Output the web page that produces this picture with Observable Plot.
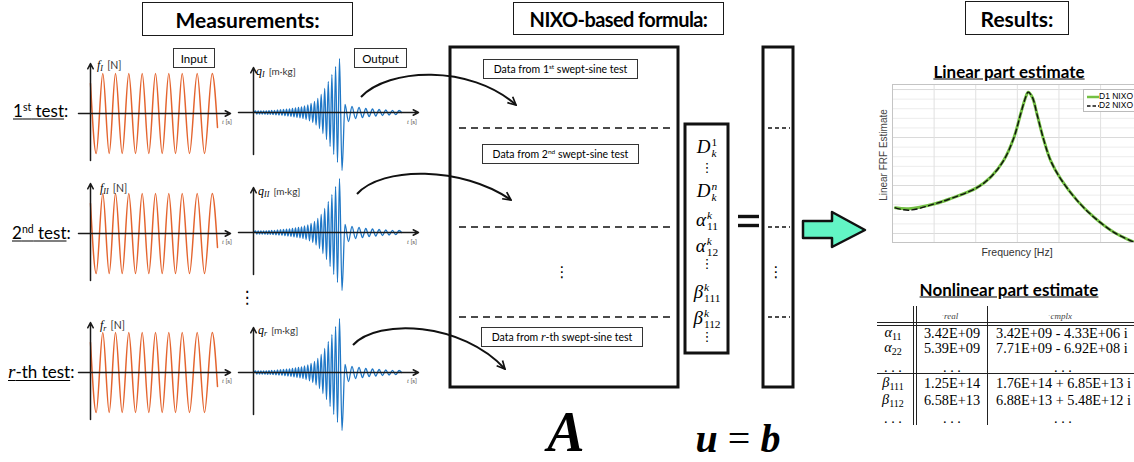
<!DOCTYPE html>
<html><head><meta charset="utf-8">
<script src="https://cdn.jsdelivr.net/npm/d3@7"></script>
<script src="https://cdn.jsdelivr.net/npm/@observablehq/plot@0.6"></script>
<style>
html,body{margin:0;padding:0;background:#fff;}
#root{position:relative;width:1134px;height:462px;overflow:hidden;font-family:Lato,"Open Sans",sans-serif;color:#000;}
#root > *{position:absolute;}
.ttl{border:1.6px solid #1a1a1a;box-sizing:border-box;display:flex;align-items:center;justify-content:center;font-weight:700;font-size:21px;background:#fff;white-space:nowrap;}
.lbl{white-space:nowrap;transform:translate(-50%,-50%);}
.lft{white-space:nowrap;transform:translate(0,-50%);}
.sbox{border:1px solid #333;box-sizing:border-box;display:flex;align-items:center;justify-content:center;font-size:11.5px;background:#fff;white-space:nowrap;}
.mi{font-family:"Liberation Serif",serif;font-style:italic;}
.up{font-family:"Liberation Serif",serif;font-style:normal;}
.ss{display:inline-flex;flex-direction:column;vertical-align:0.6em;font-size:0.6em;line-height:0.85;margin-left:1px;text-align:left;}
.vd{font-family:"DejaVu Sans",sans-serif;}
.tb{font-family:"Liberation Serif",serif;font-size:14.3px;}
sup{font-size:0.62em;vertical-align:0.55em;line-height:0;}
svg{max-width:none !important;}
</style></head>
<body><div id="root"></div>
<script>
// ---------------- data ----------------
const testLabels = ["1<sup>st</sup> test", "2<sup>nd</sup> test", "<span class='mi' style='font-size:19px'>r</span>-th test"];
const inputNames = ["I", "II", "r"];
// input swept-sine: extrema (time in px from y-axis, force value)
const inputT = [0, 5.7, 12.3, 18.7, 25, 31.7, 38.3, 45, 51.7, 58.3, 65, 71.7, 78.3, 85, 91.7, 99, 106.7, 114, 121.7, 127];
const inputV = [30, -40, 40, -40, 40, -40, 40, -40, 40, -40, 40, -40, 40, -40, 40, -40, 40, -40, 40, -14];
// output response: extrema
const outputT = [0, 2.0, 3.35, 4.7, 6.05, 7.4, 8.75, 10.1, 11.45, 12.8, 14.15, 15.5, 16.85, 18.2, 19.6, 21.0, 22.5, 24.0, 25.5, 27.0, 28.5, 30.0, 31.5, 33.0, 34.5, 36.0, 37.5, 39.0, 40.5, 42.0, 43.5, 45.0, 46.5, 48.0, 49.5, 51.0, 52.6, 54.3, 56.0, 57.6, 59.3, 61.0, 62.6, 64.3, 66.0, 67.7, 69.4, 71.2, 73.0, 74.8, 76.6, 78.4, 80.2, 82.1, 84.0, 86.0, 88.5, 91.5, 95.0, 98.5, 102.0, 105.5, 109.0, 112.3, 115.6, 119.0, 122.3, 125.6, 129.0, 132.3, 135.6, 139.0, 142.3, 145.6, 148.0];
const outputV = [0, 1.5, -1.5, 1.5, -1.5, 1.6, -1.6, 1.6, -1.7, 1.7, -1.8, 1.8, -1.9, 2.0, -2.1, 2.2, -2.3, 2.5, -2.6, 2.8, -2.9, 3.0, -3.2, 3.3, -3.5, 3.6, -3.8, 4.0, -4.3, 4.5, -4.8, 5.0, -5.3, 5.5, -6.0, 6.5, -7.0, 7.5, -8.3, 9.0, -10, 11, -12.5, 14, -16, 18, -21, 24, -27, 31, -34, 38, -42, 46, -50, 54, -58, 8, -9, 6, -6, 5, -5, 4, -4, 3.5, -3.5, 3, -3, 2.5, -2.5, 2.2, -2.2, 2, 0];
// linear FRF estimate
const frfFreq = [0.07, 0.39, 1.02, 1.39, 2.02, 2.36, 2.67, 2.92, 3.08, 3.2, 3.26, 3.36, 3.48, 3.64, 3.8, 4.04, 4.44, 4.84, 5.32, 5.8];
const frfD1 = [-109.3, -109.7, -107.6, -105.5, -101.0, -96.5, -89.6, -79.9, -70.1, -63.2, -61.1, -63.2, -70.8, -81.3, -89.6, -97.2, -106.3, -113.2, -119.5, -123.6];
const frfD2 = [-109.3, -110.3, -107.6, -105.5, -101.0, -96.5, -89.6, -79.9, -70.1, -63.2, -61.1, -63.2, -70.8, -81.3, -89.6, -97.2, -106.3, -113.2, -119.5, -123.6];
const frfGridHz = [1, 2, 3, 4, 5, 6];
const frfMajorDb = [-60, -80, -100, -120];
const legendNames = ["D1 NIXO", "D2 NIXO"];
// nonlinear table
const rowSymbols = [["α", "11"], ["α", "22"], null, ["β", "111"], ["β", "112"], null];
const realVals = ["3.42E+09", "5.39E+09", ". . .", "1.25E+14", "6.58E+13", ". . ."];
const cmplxVals = ["3.42E+09 - 4.33E+06 i", "7.71E+09 - 6.92E+08 i", ". . .", "1.76E+14 + 6.85E+13 i", "6.88E+13 + 5.48E+12 i", ". . ."];
// unknown vector u
const uEntries = [["D", "1", "k"], "⋮", ["D", "n", "k"], ["α", "k", "11"], ["α", "k", "12"], "⋮", ["β", "k", "111"], ["β", "k", "112"], "⋮"];
const dataBoxes = ["Data from 1<sup>st</sup> swept-sine test", "Data from 2<sup>nd</sup> swept-sine test", "Data from <span class='mi' style='font-size:12px'>r</span>-th swept-sine test"];

// ---------------- helpers ----------------
const root = document.getElementById("root");
function div(cls, html, x, y, extra) {
  const d = document.createElement("div");
  d.className = cls; d.innerHTML = html;
  d.style.left = x + "px"; d.style.top = y + "px";
  if (extra) Object.assign(d.style, extra);
  root.appendChild(d); return d;
}
function putNode(node, x, y, w) {
  const d = document.createElement("div");
  d.style.left = x + "px"; d.style.top = y + "px"; d.style.lineHeight = 0; d.style.width = w + "px";
  d.appendChild(node); root.appendChild(d); return d;
}
const it = s => /[a-z]/.test(s) ? `<span class="mi">${s}</span>` : `<span class="up">${s}</span>`;
function supsub(base, sup, sub) {
  return `<span class="mi">${base}</span><span class="ss"><span>${it(sup)}</span><span>${it(sub)}</span></span>`;
}

function signalPlot(T, V, color, xDom, yDom, axX, axY, sw) {
  const pts = T.map((t, i) => ({t, v: V[i]}));
  const axes = [{x1: axX[0], y1: 0, x2: axX[1], y2: 0}, {x1: 0, y1: axY[0], x2: 0, y2: axY[1]}];
  return Plot.plot({
    width: xDom[1] - xDom[0], height: yDom[1] - yDom[0], margin: 0,
    x: {domain: xDom, axis: null}, y: {domain: yDom, axis: null},
    style: {background: "none", overflow: "visible", maxWidth: "none"},
    marks: [
      Plot.line(pts, {x: "t", y: "v", stroke: color, strokeWidth: sw, curve: "monotone-x"}),
      Plot.arrow(axes, {x1: "x1", y1: "y1", x2: "x2", y2: "y2", stroke: "#1a1a1a", strokeWidth: 1.5, headLength: 6, headAngle: 55})
    ]
  });
}

// ---------------- layout ----------------
const inAxisX = 90, outAxisX = 253;
const inRowY = [113, 233, 372], outRowY = [112, 232, 372];
const inXD = [-12, 143], inYD = [-52, 52];
const outXD = [-15, 167], outYD = [-64, 64];

inRowY.forEach((y, i) => {
  putNode(signalPlot(inputT, inputV, "#e4642e", inXD, inYD, [-12, 140], [-47, 50], 1.5), inAxisX + inXD[0], y - inYD[1], inXD[1] - inXD[0]);
});
outRowY.forEach((y, i) => {
  putNode(signalPlot(outputT, outputV, "#1f77c6", outXD, outYD, [-15, 165], [-42, 45], 1.3), outAxisX + outXD[0], y - outYD[1], outXD[1] - outXD[0]);
});

// FRF plot
const d1 = frfFreq.map((f, i) => ({f, db: frfD1[i]}));
const d2 = frfFreq.map((f, i) => ({f, db: frfD2[i]}));
const frfMinor = d3.range(-120, -57, 4).filter(v => !frfMajorDb.includes(v));
const frfPlot = Plot.plot({
  width: 280, height: 184, marginLeft: 22, marginRight: 0, marginTop: 4, marginBottom: 22,
  x: {domain: [0, 6.2], axis: null},
  y: {domain: [-123.75, -57.9], axis: null},
  style: {background: "none", overflow: "visible", maxWidth: "none"},
  marks: [
    Plot.ruleY(frfMinor, {stroke: "#ececec"}),
    Plot.ruleY(frfMajorDb, {stroke: "#dadada"}),
    Plot.ruleX(frfGridHz, {stroke: "#e0e0e0"}),
    Plot.frame({stroke: "#c4c4c4"}),
    Plot.line(d1, {x: "f", y: "db", stroke: "#73c043", strokeWidth: 3, curve: "catmull-rom", clip: true}),
    Plot.line(d2, {x: "f", y: "db", stroke: "#111", strokeWidth: 1.4, strokeDasharray: "5,3.5", curve: "catmull-rom", clip: true})
  ]
});
putNode(frfPlot, 870, 80, 280);

// overlay drawing (boxes, arrows)
const svgNS = "http://www.w3.org/2000/svg";
const ov = document.createElementNS(svgNS, "svg");
ov.setAttribute("width", 1134); ov.setAttribute("height", 462);
ov.style.position = "absolute"; ov.style.left = "0px"; ov.style.top = "0px";
ov.innerHTML = `
<defs><marker id="ah" viewBox="0 0 10 10" refX="9" refY="5" markerWidth="10" markerHeight="10" markerUnits="userSpaceOnUse" orient="auto">
<path d="M1,1 L9,5 L1,9" fill="none" stroke="#111" stroke-width="1.7"/></marker></defs>
<g fill="none" stroke="#111" stroke-width="2" marker-end="url(#ah)">
<path d="M361,97 C388,68 470,64 516,105"/>
<path d="M357,194 C382,166 462,166 511,200"/>
<path d="M353,345 C378,318 462,322 505,369"/>
</g>
<g fill="none" stroke="#111" stroke-width="3">
<rect x="450" y="47" width="228" height="340"/>
<rect x="685" y="124" width="43" height="229"/>
<rect x="763" y="47" width="30" height="340"/>
</g>
<g stroke="#111" stroke-width="1.4" stroke-dasharray="7,5">
<line x1="459" x2="674" y1="128" y2="128"/><line x1="459" x2="674" y1="227" y2="227"/><line x1="459" x2="674" y1="317" y2="317"/>
</g>
<g stroke="#111" stroke-width="1.3" stroke-dasharray="4,3">
<line x1="768" x2="790" y1="128" y2="128"/><line x1="768" x2="790" y1="227" y2="227"/><line x1="768" x2="790" y1="317" y2="317"/>
</g>
<g stroke="#111" stroke-width="3.4"><line x1="738" x2="759" y1="216.5" y2="216.5"/><line x1="738" x2="759" y1="225.5" y2="225.5"/></g>
<polygon points="803,221 832,221 832,212 865,230 832,247 832,238 803,238" fill="#62f5c5" stroke="#111" stroke-width="2.5" stroke-linejoin="round"/>
`;
root.appendChild(ov);

// ---------------- text ----------------
div("ttl", "Measurements:", 142, 2, {width: "211px", height: "34px"});
div("ttl", "NIXO-based formula:", 513, 2, {width: "211px", height: "33px", fontSize: "20px", letterSpacing: "-0.6px"});
div("ttl", "Results:", 965, 1, {width: "104px", height: "34px"});

const testY = [110, 232, 372], testX = [13, 12, 8];
testLabels.forEach((t, i) => div("lft", `<span style="text-decoration:underline;text-underline-offset:2px">${t}</span>:`, testX[i], testY[i], {fontSize: "17px"}));

div("sbox", "<span>Input</span>", 173, 48, {width: "42px", height: "20px"});
div("sbox", "<span>Output</span>", 354, 48, {width: "53px", height: "20px"});

const fLblY = [63, 186, 323], qLblY = [69, 189, 328];
inputNames.forEach((n, i) => {
  div("lft", `<span class="mi" style="font-size:12px">f</span><span class="mi" style="font-size:8px;vertical-align:-2px">${n}</span> <span style="font-size:10.5px;color:#333">[N]</span>`, 97 + (i ? 3 : 0), fLblY[i]);
  div("lft", `<span class="mi" style="font-size:12px">q</span><span class="mi" style="font-size:8px;vertical-align:-2px">${n}</span> <span style="font-size:10px;color:#333">[m·kg]</span>`, 256 + (i ? 2 : 0), qLblY[i]);
  div("lbl", `<span class="mi">t</span> [s]`, 227, [121, 241, 380][i], {fontSize: "6.5px", color: "#555"});
  div("lbl", `<span class="mi">t</span> [s]`, 412, [121, 241, 380][i], {fontSize: "6.5px", color: "#555"});
});
div("lbl vd", "⋮", 247, 297, {fontSize: "17px"});

const dbx = [[483, 59, 155], [482, 144, 157], [481, 327, 162]];
dataBoxes.forEach((t, i) => div("sbox", `<span>${t}</span>`, dbx[i][0], dbx[i][1], {width: dbx[i][2] + "px", height: "20px", fontSize: "10.5px"}));
div("lbl vd", "⋮", 562, 272, {fontSize: "15px"});
div("lbl vd", "⋮", 776, 272, {fontSize: "15px"});

const uY = [144, 168, 188, 217, 243, 264, 289, 315, 337];
uEntries.forEach((e, i) => {
  if (typeof e === "string") div("lbl vd", e, 707, uY[i], {fontSize: "13px", lineHeight: "12px", height: "12px"});
  else div("lbl", supsub(e[0], e[1], e[2]), 707, uY[i] + 2, {fontSize: "19px", lineHeight: "18px", height: "18px"});
});

div("lbl", "A", 566, 432, {fontFamily: "'Liberation Serif',serif", fontWeight: 700, fontStyle: "italic", fontSize: "56px"});
div("lbl", "<i>u</i> <span style='font-weight:400'>=</span> <i>b</i>", 738, 438, {fontFamily: "'Liberation Serif',serif", fontWeight: 700, fontSize: "40px"});

div("lbl", "<u>Linear part estimate</u>", 1009, 71, {fontSize: "17px", fontWeight: 700});
div("lbl", "<u>Nonlinear part estimate</u>", 1009, 289, {fontSize: "17px", fontWeight: 700});
div("lbl", "Linear FRF Estimate", 883, 155, {fontFamily: "'Liberation Sans',Arial,sans-serif", fontSize: "10px", color: "#444", transform: "translate(-50%,-50%) rotate(-90deg)"});
div("lbl", "Frequency [Hz]", 1017, 252, {fontFamily: "'Liberation Sans',Arial,sans-serif", fontSize: "10.5px", color: "#333"});

// legend
div("", `<svg width="14" height="22" style="position:absolute;left:2px;top:0"><line x1="1" x2="13" y1="7" y2="7" stroke="#73c043" stroke-width="2.5"/><line x1="1" x2="13" y1="16" y2="16" stroke="#111" stroke-width="1.5" stroke-dasharray="3.5,2"/></svg>` +
  legendNames.map((n, i) => `<div style="position:absolute;left:15px;top:${i * 9 + 1}px;font-size:8.5px;line-height:11px;white-space:nowrap;font-family:'Liberation Sans',Arial,sans-serif">${n}</div>`).join(""),
  1083, 89, {width: "70px", height: "23px", border: "1px solid #bbb", background: "#fff", boxSizing: "border-box"});

// table lines
const line = (x, y, w, h) => div("", "", x, y, {width: w + "px", height: h + "px", background: "#222"});
line(913, 306, 1, 119); line(916, 306, 1, 119); line(987, 306, 1, 119);
line(877, 322, 260, 1); line(877, 325, 260, 1); line(877, 373, 260, 1);
div("lbl", "<span style='font-size:7px'>˙</span><i>real</i>", 950, 316, {fontFamily: "'Liberation Serif',serif", fontSize: "9px", color: "#444"});
div("lbl", "<span style='font-size:7px'>˙</span><i>cmplx</i>", 1060, 316, {fontFamily: "'Liberation Serif',serif", fontSize: "9px", color: "#444"});
const rowY = [333, 348, 367, 383, 400, 418];
rowY.forEach((y, i) => {
  const s = rowSymbols[i];
  div("lbl tb", s ? `<i>${s[0]}</i><span style="font-size:10px;vertical-align:-3px">${s[1]}</span>` : ". . .", 893, y);
  div("lbl tb", realVals[i], 952, y);
  if (cmplxVals[i] === ". . .") div("lbl tb", cmplxVals[i], 1063, y);
  else div("lft tb", cmplxVals[i], 996, y);
});
</script></body></html>
